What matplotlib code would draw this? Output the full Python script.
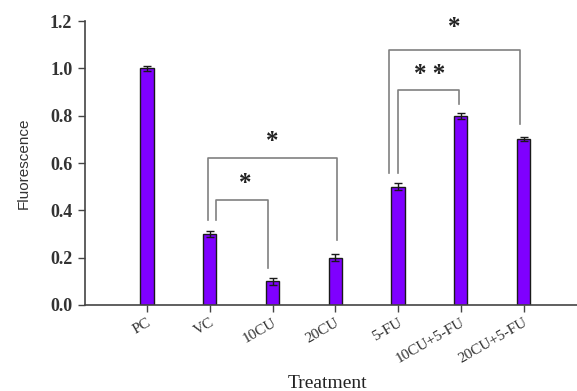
import matplotlib
matplotlib.use('Agg')
import matplotlib.pyplot as plt

groups = ['PC', 'VC', '10CU', '20CU', '5-FU', '10CU+5-FU', '20CU+5-FU']
fluor = [1.00, 0.30, 0.10, 0.20, 0.50, 0.80, 0.70]
err = [0.010, 0.012, 0.015, 0.015, 0.015, 0.012, 0.008]

# brackets: (x_left, x_right, y_top, y_left_end, y_right_end, text, text_x, text_y)
brackets = [
    (0.97, 3.03, 0.62, 0.36, 0.275, '*', 2.0, 0.69),
    (1.10, 1.93, 0.445, 0.36, 0.155, '*', 1.57, 0.515),
    (3.85, 5.94, 1.08, 0.56, 0.765, '*', 4.9, 1.175),
    (4.00, 4.97, 0.91, 0.56, 0.85, '* *', 4.5, 0.975),
]

fig = plt.figure(figsize=(5.77, 3.91), dpi=100)
ax = fig.add_axes([0.147, 0.22, 0.853, 0.726])

x = range(len(groups))
ax.bar(x, fluor, width=0.21, color='#7f00ff', edgecolor='#1a1a1a', linewidth=1.0,
       yerr=err, error_kw=dict(ecolor='#1a1a1a', elinewidth=1.0, capsize=3, capthick=1.0))

for xl, xr, yt, yl, yr, txt, tx, ty in brackets:
    ax.plot([xl, xl, xr, xr], [yl, yt, yt, yr], color='#808080', lw=1.2)
    ax.text(tx, ty, txt, ha='center', va='center', fontsize=18, fontweight='bold',
            family='Liberation Serif', color='#222222')

ax.set_xlim(-0.99, 6.85)
ax.set_ylim(0, 1.2)
ax.set_yticks([0.0, 0.2, 0.4, 0.6, 0.8, 1.0, 1.2])
ax.set_yticklabels(['%.1f' % v for v in ax.get_yticks()],
                   family='Liberation Serif', fontsize=13, fontweight='bold', color='#333333')
ax.set_xticks(list(x))
ax.set_xticklabels(groups, rotation=30, ha='right', rotation_mode='anchor',
                   family='Liberation Serif', fontsize=11, color='#333333')
ax.tick_params(axis='both', direction='out', length=5, width=1, color='#444444')
ax.tick_params(axis='x', pad=3)
ax.tick_params(axis='y', pad=4)

for s in ['top', 'right']:
    ax.spines[s].set_visible(False)
for s in ['left', 'bottom']:
    ax.spines[s].set_color('#444444')
    ax.spines[s].set_linewidth(1.2)

ax.set_ylabel('Fluorescence', family='Liberation Sans', fontsize=11, color='#333333', labelpad=14)
fig.text(0.568, 0.02, 'Treatment', ha='center', va='center',
         family='Liberation Serif', fontsize=14, color='#222222')

fig.savefig('out.png', dpi=100)
